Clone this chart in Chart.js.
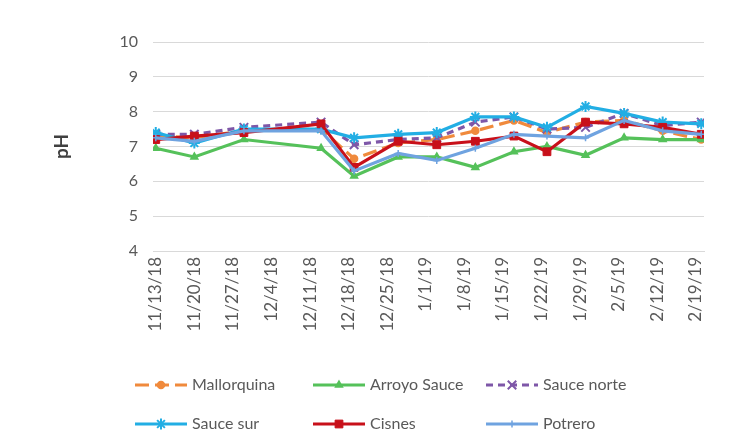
<!DOCTYPE html>
<html>
<head>
<meta charset="utf-8">
<script src="https://cdn.jsdelivr.net/npm/chart.js@4.4.1/dist/chart.umd.min.js"></script>
<style>
  html, body { margin: 0; padding: 0; background: #ffffff; }
  #wrap { width: 752px; height: 445px; }
</style>
</head>
<body>
<div id="wrap"><canvas id="c" width="752" height="445"></canvas></div>
<script>
// Weekly axis labels (m/d/yy)
const tickDates = ['11/13/18', '11/20/18', '11/27/18', '12/4/18', '12/11/18', '12/18/18', '12/25/18',
                   '1/1/19', '1/8/19', '1/15/19', '1/22/19', '1/29/19', '2/5/19', '2/12/19', '2/19/19'];

// Sampling dates
const sampleDates = ['11/13/18', '11/20/18', '11/29/18', '12/13/18', '12/19/18', '12/27/18', '1/3/19',
                     '1/10/19', '1/17/19', '1/23/19', '1/30/19', '2/6/19', '2/13/19', '2/20/19'];

const seriesNames = ['Mallorquina', 'Arroyo Sauce', 'Sauce norte', 'Sauce sur', 'Cisnes', 'Potrero'];

// pH per site, one value per sampling date
const mallorquina = [7.30, 7.25, 7.45, 7.50, 6.65, 7.10, 7.20, 7.45, 7.75, 7.40, 7.70, 7.75, 7.45, 7.20];
const arroyoSauce = [6.95, 6.70, 7.20, 6.95, 6.15, 6.70, 6.70, 6.40, 6.85, 7.00, 6.75, 7.25, 7.20, 7.20];
const sauceNorte  = [7.35, 7.35, 7.55, 7.70, 7.05, 7.20, 7.25, 7.70, 7.85, 7.50, 7.55, 7.95, 7.60, 7.70];
const sauceSur    = [7.40, 7.10, 7.50, 7.50, 7.25, 7.35, 7.40, 7.85, 7.85, 7.55, 8.15, 7.95, 7.70, 7.65];
const cisnes      = [7.20, 7.30, 7.40, 7.65, 6.40, 7.15, 7.05, 7.15, 7.30, 6.85, 7.70, 7.65, 7.55, 7.35];
const potrero     = [7.25, 7.15, 7.45, 7.45, 6.30, 6.80, 6.60, 6.95, 7.35, 7.30, 7.25, 7.75, 7.45, 7.35];

const seriesValues = [mallorquina, arroyoSauce, sauceNorte, sauceSur, cisnes, potrero];

// Line and marker look of each site
const seriesStyles = [
  { color: '#F08A3C', dash: [14, 6], pointStyle: 'circle',   radius: 3.5, pointBorder: 1.5 },
  { color: '#55C15A', dash: [],      pointStyle: 'triangle', radius: 4,   pointBorder: 1.5 },
  { color: '#7E57A8', dash: [7, 5],  pointStyle: 'crossRot', radius: 6,   pointBorder: 2 },
  { color: '#22AEE4', dash: [],      pointStyle: 'star',     radius: 5.5, pointBorder: 2 },
  { color: '#C8101A', dash: [],      pointStyle: 'rect',     radius: 5.5, pointBorder: 1 },
  { color: '#6FA3E0', dash: [],      pointStyle: 'cross',    radius: 3.5, pointBorder: 1.5 }
];

const TEXT = '#595959';
const GRID = '#D9D9D9';
const FONT = 'Lato, "Open Sans", "Liberation Sans", sans-serif';

function dayNumber(s) {
  const [m, d, y] = s.split('/').map(Number);
  return Date.UTC(2000 + y, m - 1, d) / 86400000;
}
const origin = dayNumber(tickDates[0]);
const tickDays = tickDates.map(s => dayNumber(s) - origin);
const sampleDays = sampleDates.map(s => dayNumber(s) - origin);

const datasets = seriesNames.map((name, i) => {
  const st = seriesStyles[i];
  return {
    label: name,
    data: sampleDays.map((x, j) => ({ x: x, y: seriesValues[i][j] })),
    borderColor: st.color,
    backgroundColor: st.color,
    borderWidth: 3.2,
    borderDash: st.dash,
    pointStyle: st.pointStyle,
    pointRadius: st.radius,
    pointBorderWidth: st.pointBorder,
    pointBorderColor: st.color,
    pointBackgroundColor: st.color,
    tension: 0,
    order: seriesNames.length - i
  };
});

// Three-column legend under the plot
const legendSlots = [
  { x: 135, y: 385 }, { x: 313, y: 385 }, { x: 486, y: 385 },
  { x: 135, y: 424 }, { x: 313, y: 424 }, { x: 486, y: 424 }
];
const gridLegend = {
  id: 'gridLegend',
  afterDraw(chart) {
    const ctx = chart.ctx;
    ctx.save();
    chart.data.datasets.forEach((ds, i) => {
      const slot = legendSlots[i];
      const x0 = slot.x, x1 = slot.x + 52, y = slot.y;
      ctx.strokeStyle = ds.borderColor;
      ctx.lineWidth = ds.borderWidth;
      ctx.setLineDash(ds.borderDash || []);
      ctx.beginPath();
      ctx.moveTo(x0, y);
      ctx.lineTo(x1, y);
      ctx.stroke();
      ctx.setLineDash([]);
      ctx.fillStyle = ds.pointBackgroundColor;
      ctx.strokeStyle = ds.pointBorderColor;
      ctx.lineWidth = ds.pointBorderWidth;
      Chart.helpers.drawPoint(ctx, {
        pointStyle: ds.pointStyle,
        radius: ds.pointRadius,
        rotation: 0,
        borderWidth: ds.pointBorderWidth
      }, (x0 + x1) / 2, y);
      ctx.fillStyle = TEXT;
      ctx.font = '16px ' + FONT;
      ctx.textBaseline = 'middle';
      ctx.textAlign = 'left';
      ctx.fillText(ds.label, x1 + 5, y);
    });
    ctx.restore();
  }
};

new Chart(document.getElementById('c'), {
  type: 'line',
  data: { datasets: datasets },
  plugins: [gridLegend],
  options: {
    responsive: false,
    devicePixelRatio: 1,
    animation: false,
    events: [],
    layout: { padding: { top: 42, right: 48, bottom: 110, left: 0 } },
    plugins: {
      legend: { display: false },
      tooltip: { enabled: false }
    },
    scales: {
      x: {
        type: 'linear',
        min: -0.5,
        max: 99.5,
        afterBuildTicks(axis) {
          axis.ticks = tickDays.map(v => ({ value: v }));
        },
        afterFit(scale) { scale.height = 84; },
        ticks: {
          autoSkip: false,
          maxRotation: 90,
          minRotation: 90,
          padding: 6,
          color: TEXT,
          font: { family: FONT, size: 17 },
          callback: (value, index) => tickDates[index]
        },
        grid: { display: false, drawTicks: false },
        border: { display: true, color: GRID, width: 1 }
      },
      y: {
        min: 4,
        max: 10,
        afterFit(scale) { scale.width = 153; },
        ticks: {
          stepSize: 1,
          padding: 15,
          color: TEXT,
          font: { family: FONT, size: 16 }
        },
        grid: { color: GRID, lineWidth: 1, drawTicks: false },
        border: { display: false },
        title: {
          display: true,
          text: 'pH',
          color: '#404040',
          font: { family: FONT, size: 19, weight: 'bold' },
          padding: { top: 50, bottom: 0 }
        }
      }
    }
  }
});
</script>
</body>
</html>
